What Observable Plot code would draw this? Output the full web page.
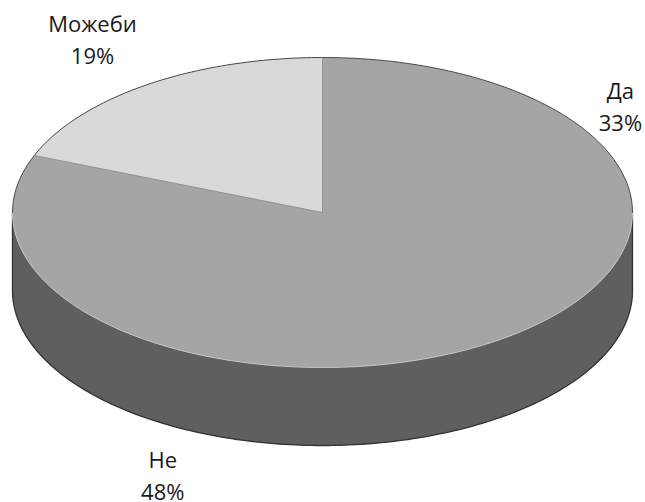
<!DOCTYPE html>
<html>
<head>
<meta charset="utf-8">
<script src="https://cdn.jsdelivr.net/npm/d3@7"></script>
<script src="https://cdn.jsdelivr.net/npm/@observablehq/plot@0.6"></script>
<style>
  html, body { margin: 0; padding: 0; background: #fff; }
</style>
</head>
<body>
<div id="chart"></div>
<script>
// ---- data ----
const categories = ["Да", "Не", "Можеби"];
const values = [33, 48, 19];
const topColors = ["#a5a5a5", "#a5a5a5", "#d9d9d9"];
const sideColors = ["#5f5f5f", "#5f5f5f", "#5f5f5f"];

// ---- layout (units: ellipse radius = 1 on each axis) ----
const W = 645, H = 502;
const CX = 322, CY = 212, RX = 310, RY = 155; // pixel layout of the top face
const depth = 78 / RY;   // thickness of the disc, in y units
const step = 1;          // degrees per arc sample
const labelKx = [1.45, 1.21, 1.32];
const labelKy = 1.36;

const total = d3.sum(values);
let acc = 0;
const slices = categories.map((c, i) => {
  const a0 = acc / total * 360;
  acc += values[i];
  const a1 = acc / total * 360;
  return {name: c, value: values[i], a0, a1, top: topColors[i], side: sideColors[i]};
});

const rad = d => d * Math.PI / 180;
const pt = (deg, dy = 0) => ({x: Math.sin(rad(deg)), y: Math.cos(rad(deg)) - dy});
function arc(a0, a1, dy = 0) {
  const pts = [];
  const n = Math.max(2, Math.ceil((a1 - a0) / step));
  for (let k = 0; k <= n; k++) pts.push(pt(a0 + (a1 - a0) * k / n, dy));
  return pts;
}

// top faces
const topPolys = slices.map(s => [{x: 0, y: 0}, ...arc(s.a0, s.a1), {x: 0, y: 0}]);

// front side walls (visible between 90° and 270°)
const sidePolys = slices.map(s => {
  const b0 = Math.max(s.a0, 90), b1 = Math.min(s.a1, 270);
  if (b1 <= b0) return null;
  return {s, p: [...arc(b0, b1), ...arc(b0, b1, depth).reverse()]};
}).filter(Boolean);

const fullSide = [...arc(90, 270), ...arc(90, 270, depth).reverse()];
const fullTop = arc(0, 360);
const sideOutline = [pt(90), ...arc(90, 270, depth), pt(270)];
const backRim = arc(-90, 90);

// labels
const labels = slices.map((s, i) => {
  const m = (s.a0 + s.a1) / 2;
  const sx = Math.sin(rad(m)), cy = Math.cos(rad(m));
  return {
    text: `${s.name}\n${s.value}%`,
    x: Math.max(-0.95, Math.min(0.961, labelKx[i] * sx)),
    y: labelKy * cy - (cy < 0 ? depth * 0.9 : 0)
  };
});

const marks = [];
marks.push(Plot.line(fullSide, {x: "x", y: "y", fill: sideColors[0]}));
sidePolys.forEach(({s, p}) => {
  marks.push(Plot.line(p, {x: "x", y: "y", fill: s.side}));
});
marks.push(Plot.line(sideOutline, {x: "x", y: "y", stroke: "#333", strokeWidth: 1.3}));
marks.push(Plot.line(fullTop, {x: "x", y: "y", fill: topColors[0]}));
topPolys.forEach((p, i) => {
  if (slices[i].top !== topColors[0])
    marks.push(Plot.line(p, {x: "x", y: "y", fill: slices[i].top}));
});
marks.push(Plot.line(arc(90, 270), {x: "x", y: "y", stroke: "#c4c4c4", strokeWidth: 1}));
marks.push(Plot.line(backRim, {x: "x", y: "y", stroke: "#4a4a4a", strokeWidth: 1}));
// radial edges of the light slice
const light = slices[2];
marks.push(Plot.line([pt(light.a0), {x: 0, y: 0}, pt(light.a1)], {x: "x", y: "y", stroke: "#8a8a8a", strokeWidth: 0.8}));

marks.push(Plot.text(labels, {
  x: "x", y: "y", text: "text",
  fontSize: 22, lineHeight: 1.45, fill: "#1a1a1a",
  textAnchor: "middle", lineAnchor: "middle"
}));

const chart = Plot.plot({
  width: W, height: H, margin: 0,
  style: {fontFamily: "'Open Sans', sans-serif", background: "#fff"},
  x: {domain: [-CX / RX, (W - CX) / RX], axis: null},
  y: {domain: [-(H - CY) / RY, CY / RY], axis: null},
  marks
});
document.getElementById("chart").appendChild(chart);
</script>
</body>
</html>
